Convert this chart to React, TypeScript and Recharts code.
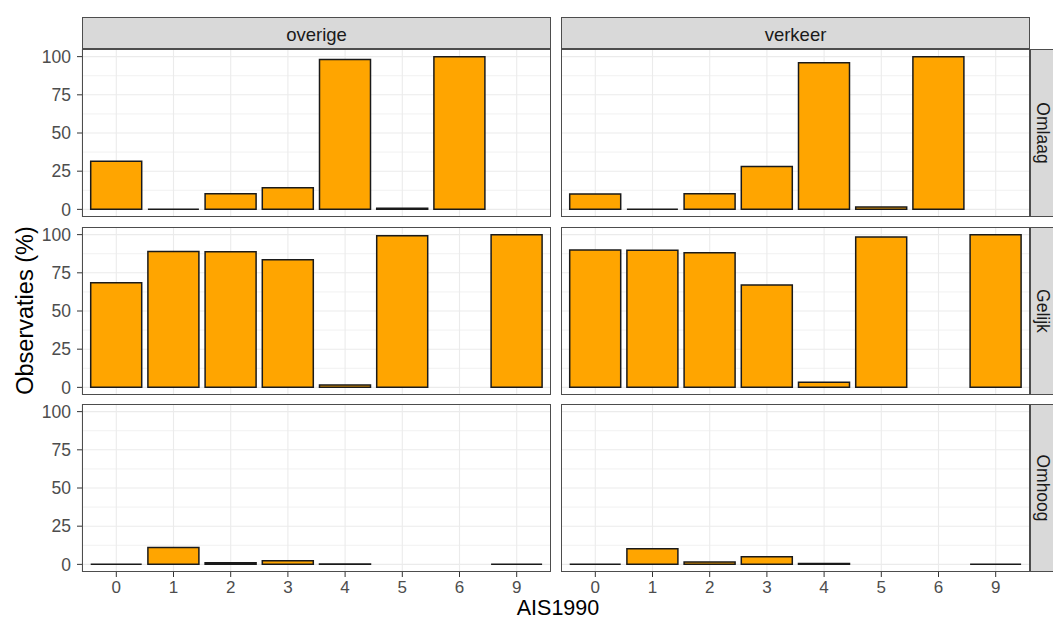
import React from 'react';
import { BarChart, Bar, XAxis, YAxis, CartesianGrid } from 'recharts';

// ---------- data ----------
const categories = ['0', '1', '2', '3', '4', '5', '6', '9'];
const columnLabels = ['overige', 'verkeer'];
const rowLabels = ['Omlaag', 'Gelijk', 'Omhoog'];
const yTicks = [0, 25, 50, 75, 100];
const yMinorTicks = [12.5, 37.5, 62.5, 87.5];

const overigeOmlaag = [31.5, 0, 10.2, 14.1, 98.1, 0.7, 100, null];
const overigeGelijk = [68.5, 88.9, 88.8, 83.5, 1.6, 99.3, null, 100];
const overigeOmhoog = [0, 11.1, 1.0, 2.4, 0.3, null, null, 0];
const verkeerOmlaag = [10.0, 0, 10.3, 28.0, 96.0, 1.6, 100, null];
const verkeerGelijk = [90.0, 89.7, 88.2, 67.0, 3.4, 98.4, null, 100];
const verkeerOmhoog = [0, 10.3, 1.5, 5.0, 0.6, null, null, 0];

const facetValues: (number | null)[][][] = [
  [overigeOmlaag, verkeerOmlaag],
  [overigeGelijk, verkeerGelijk],
  [overigeOmhoog, verkeerOmhoog],
];

// ---------- layout / style ----------
const FONT = '"Liberation Sans", Arial, Helvetica, sans-serif';
const COL_X = [82, 561];
const PANEL_W = 469;
const ROW_Y = [49, 227, 404];
const PANEL_H = 168;
const PAD = 10;
const STRIP_TOP = 17;
const STRIP_H = 31;
const RIGHT_STRIP_X = 1030;
const RIGHT_STRIP_W = 30;
const Y_AXIS_W = 82;
const X_AXIS_H = 30;
const BAR_FILL = '#FFA500';
const BAR_STROKE = '#1A1A1A';
const BORDER = '#4d4d4d';
const STRIP_FILL = '#D9D9D9';

function makeShape() {
  return (props: any) => {
    const { x, y, width, height, payload } = props;
    if (payload == null || payload.value == null) return <g />;
    if (!isFinite(x) || !isFinite(y) || !isFinite(width)) return <g />;
    const h = isFinite(height) ? height : 0;
    return (
      <path
        d={`M${x},${y}h${width}v${h}h${-width}Z`}
        fill={BAR_FILL}
        stroke={BAR_STROKE}
        strokeWidth={1.5}
      />
    );
  };
}

function Panel({ row, col }: { row: number; col: number }) {
  const vals = facetValues[row][col];
  const data = categories.map((c, i) => ({ cat: c, value: vals[i] }));
  const showY = col === 0;
  const showX = row === 2;
  const width = showY ? COL_X[0] + PANEL_W : PANEL_W;
  const left = showY ? 0 : COL_X[col];
  const bottomPad = showX ? 0 : PAD;
  const height = PAD + PANEL_H + (showX ? X_AXIS_H : bottomPad);
  return (
    <div style={{ position: 'absolute', left, top: ROW_Y[row] - PAD, width, height }}>
      <BarChart
        width={width}
        height={height}
        data={data}
        margin={{ top: PAD, right: 0, bottom: bottomPad, left: 0 }}
        barSize={51}
      >
        <CartesianGrid
          horizontalValues={yMinorTicks}
          vertical={false}
          stroke="#F1F1F1"
          strokeWidth={1}
        />
        <CartesianGrid
          horizontalValues={yTicks}
          stroke="#EBEBEB"
          strokeWidth={1.1}
        />
        <XAxis
          dataKey="cat"
          type="category"
          padding={{ left: 5.7, right: 5.7 }}
          hide={!showX}
          height={showX ? X_AXIS_H : 0}
          axisLine={false}
          tickLine={{ stroke: '#333333', strokeWidth: 1 }}
          tickSize={5}
          tickMargin={4}
          tick={{ fill: '#4D4D4D', fontSize: 17, fontFamily: FONT }}
          interval={0}
        />
        <YAxis
          type="number"
          domain={[-5, 105]}
          ticks={yTicks}
          interval={0}
          hide={!showY}
          width={showY ? Y_AXIS_W : 0}
          axisLine={false}
          tickLine={{ stroke: '#333333', strokeWidth: 1 }}
          tickSize={5}
          tickMargin={6}
          tick={{ fill: '#4D4D4D', fontSize: 17.5, fontFamily: FONT }}
          allowDataOverflow
        />
        <Bar dataKey="value" isAnimationActive={false} shape={makeShape()} />
      </BarChart>
    </div>
  );
}

export default function App() {
  const panels: React.ReactNode[] = [];
  rowLabels.forEach((_, r) =>
    columnLabels.forEach((__, c) => panels.push(<Panel key={`${r}-${c}`} row={r} col={c} />))
  );
  const midY = (ROW_Y[0] + ROW_Y[2] + PANEL_H) / 2;
  return (
    <div
      style={{
        position: 'absolute',
        left: 0,
        top: 0,
        width: 1053,
        height: 619,
        background: '#FFFFFF',
        overflow: 'hidden',
        fontFamily: FONT,
      }}
    >
      {panels}
      <svg
        width={1053}
        height={619}
        style={{ position: 'absolute', left: 0, top: 0, pointerEvents: 'none' }}
      >
        {/* panel borders */}
        {ROW_Y.map((y, r) =>
          COL_X.map((x, c) => (
            <rect
              key={`b${r}${c}`}
              x={x + 0.5}
              y={y + 0.5}
              width={PANEL_W - 1}
              height={PANEL_H - 1}
              fill="none"
              stroke={BORDER}
              strokeWidth={1}
            />
          ))
        )}
        {/* column strips */}
        {columnLabels.map((lab, c) => (
          <g key={`cs${c}`}>
            <rect
              x={COL_X[c] + 0.5}
              y={STRIP_TOP + 0.5}
              width={PANEL_W - 1}
              height={STRIP_H}
              fill={STRIP_FILL}
              stroke={BORDER}
              strokeWidth={1}
            />
            <text
              x={COL_X[c] + PANEL_W / 2}
              y={STRIP_TOP + 24}
              textAnchor="middle"
              fontSize={18.5}
              fill="#1A1A1A"
              fontFamily={FONT}
            >
              {lab}
            </text>
          </g>
        ))}
        {/* row strips */}
        {rowLabels.map((lab, r) => {
          const cy = ROW_Y[r] + PANEL_H / 2;
          return (
            <g key={`rs${r}`}>
              <rect
                x={RIGHT_STRIP_X + 0.5}
                y={ROW_Y[r] + 0.5}
                width={RIGHT_STRIP_W}
                height={PANEL_H - 1}
                fill={STRIP_FILL}
                stroke={BORDER}
                strokeWidth={1}
              />
              <text
                x={1037}
                y={cy}
                textAnchor="middle"
                fontSize={17.5}
                fill="#1A1A1A"
                fontFamily={FONT}
                transform={`rotate(90, 1037, ${cy})`}
              >
                {lab}
              </text>
            </g>
          );
        })}
        {/* axis titles */}
        <text
          x={33}
          y={midY}
          textAnchor="middle"
          fontSize={23.5}
          fill="#000000"
          fontFamily={FONT}
          transform={`rotate(-90, 33, ${midY})`}
        >
          Observaties (%)
        </text>
        <text x={558} y={615} textAnchor="middle" fontSize={21.5} fill="#000000" fontFamily={FONT}>
          AIS1990
        </text>
      </svg>
    </div>
  );
}
